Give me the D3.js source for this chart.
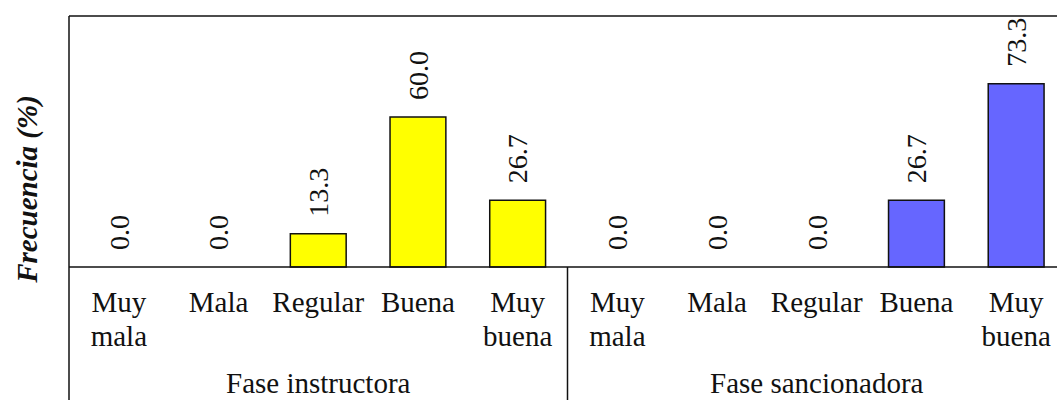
<!DOCTYPE html>
<html>
<head>
<meta charset="utf-8">
<script src="https://cdn.jsdelivr.net/npm/d3@7"></script>
<style>
  body { margin: 0; background: #fff; }
  text { font-family: "Liberation Serif", "Times New Roman", serif; }
</style>
</head>
<body>
<div id="chart"></div>
<script>
// Data
var phases = ["Fase instructora", "Fase sancionadora"];
var categories = ["Muy mala", "Mala", "Regular", "Buena", "Muy buena"];
var instructora = [0.0, 0.0, 13.3, 60.0, 26.7];
var sancionadora = [0.0, 0.0, 0.0, 26.7, 73.3];
var phaseColors = ["#ffff00", "#6666ff"];

var width = 1057, height = 400;
var plotLeft = 69, plotRight = 1066, plotTop = 16, base = 267;

var rows = [];
phases.forEach(function(p, pi) {
  var vals = pi === 0 ? instructora : sancionadora;
  categories.forEach(function(c, ci) {
    rows.push({ key: pi + "-" + c, phase: pi, cat: c, value: vals[ci] });
  });
});

var svg = d3.select("#chart")
  .append("svg")
  .attr("width", width)
  .attr("height", height);

var x = d3.scaleBand()
  .domain(rows.map(function(d) { return d.key; }))
  .range([plotLeft, plotRight])
  .paddingInner(0.44)
  .paddingOuter(0.22);

var y = d3.scaleLinear()
  .domain([0, 100.4])
  .range([base, plotTop]);

// Bars
svg.selectAll(".bar")
  .data(rows.filter(function(d) { return d.value > 0; }))
  .enter()
  .append("rect")
  .attr("class", "bar")
  .attr("x", function(d) { return x(d.key); })
  .attr("y", function(d) { return y(d.value); })
  .attr("width", x.bandwidth())
  .attr("height", function(d) { return base - y(d.value); })
  .attr("fill", function(d) { return phaseColors[d.phase]; })
  .attr("stroke", "#111")
  .attr("stroke-width", 1.5);

// Frame lines
svg.append("line").attr("x1", plotLeft).attr("x2", width + 5).attr("y1", plotTop).attr("y2", plotTop)
  .attr("stroke", "#111").attr("stroke-width", 1.5);
svg.append("line").attr("x1", plotLeft).attr("x2", plotLeft).attr("y1", plotTop).attr("y2", height)
  .attr("stroke", "#111").attr("stroke-width", 1.5);
svg.append("line").attr("x1", plotLeft).attr("x2", width + 5).attr("y1", base).attr("y2", base)
  .attr("stroke", "#111").attr("stroke-width", 1.5);

var step = x.step();
var sepX = x(rows[5].key) - x.paddingInner() * step / 2;
svg.append("line").attr("x1", sepX).attr("x2", sepX).attr("y1", base).attr("y2", height)
  .attr("stroke", "#111").attr("stroke-width", 1.5);

// Value labels
svg.selectAll(".val")
  .data(rows)
  .enter()
  .append("text")
  .attr("class", "val")
  .attr("transform", function(d) {
    return "translate(" + (x(d.key) + x.bandwidth() / 2) + "," + (y(d.value) - 17) + ") rotate(-90)";
  })
  .attr("dy", "0.35em")
  .attr("font-size", 28)
  .attr("fill", "#111")
  .text(function(d) { return d3.format(".1f")(d.value); });

// Category labels
var catLabels = svg.selectAll(".cat")
  .data(rows)
  .enter()
  .append("text")
  .attr("class", "cat")
  .attr("text-anchor", "middle")
  .attr("font-size", 29)
  .attr("fill", "#111");

catLabels.each(function(d) {
  var words = d.cat.split(" ");
  var cx = x(d.key) + x.bandwidth() / 2;
  var el = d3.select(this);
  if (words.length === 2) {
    el.append("tspan").attr("x", cx).attr("y", 312).text(words[0]);
    el.append("tspan").attr("x", cx).attr("y", 346).text(words[1]);
  } else {
    el.append("tspan").attr("x", cx).attr("y", 312).text(d.cat);
  }
});

// Phase labels
svg.selectAll(".phase")
  .data(phases)
  .enter()
  .append("text")
  .attr("class", "phase")
  .attr("x", function(d, i) { return i === 0 ? (plotLeft + sepX) / 2 : (sepX + plotRight) / 2; })
  .attr("y", 393)
  .attr("text-anchor", "middle")
  .attr("font-size", 29)
  .attr("fill", "#111")
  .text(function(d) { return d; });

// Y axis title
svg.append("text")
  .attr("transform", "translate(37,189) rotate(-90)")
  .attr("text-anchor", "middle")
  .attr("font-size", 29)
  .attr("font-weight", "bold")
  .attr("font-style", "italic")
  .attr("fill", "#111")
  .text("Frecuencia (%)");
</script>
</body>
</html>
